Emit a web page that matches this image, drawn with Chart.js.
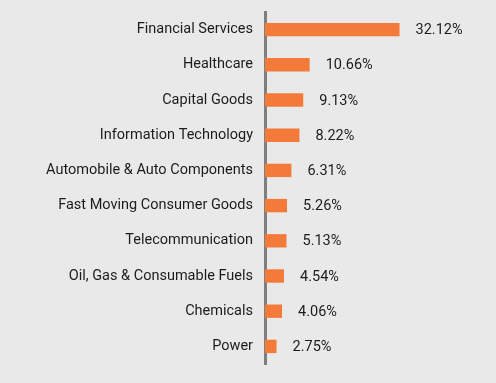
<!DOCTYPE html>
<html>
<head>
<meta charset="utf-8">
<script src="https://cdn.jsdelivr.net/npm/chart.js@4"></script>
<style>
  html, body { margin: 0; padding: 0; background: #e9e9ea; }
  #wrap { width: 496px; height: 383px; }
</style>
</head>
<body>
<div id="wrap"><canvas id="sector_chart"></canvas></div>
<script>
var sector_labels = ['Financial Services', 'Healthcare', 'Capital Goods', 'Information Technology',
                     'Automobile & Auto Components', 'Fast Moving Consumer Goods', 'Telecommunication',
                     'Oil, Gas & Consumable Fuels', 'Chemicals', 'Power'];
var sector_weights = [32.12, 10.66, 9.13, 8.22, 6.31, 5.26, 5.13, 4.54, 4.06, 2.75];

var bar_color = '#f47a3a';
var text_color = '#1c1c1c';

// draws the % value to the right of each bar
const valueLabels = {
    id: 'valueLabels',
    afterDatasetsDraw(chart) {
        const ctx = chart.ctx;
        const meta = chart.getDatasetMeta(0);
        ctx.save();
        ctx.font = '14.5px Roboto';
        ctx.fillStyle = text_color;
        ctx.textBaseline = 'middle';
        meta.data.forEach(function (bar, i) {
            ctx.fillText(sector_weights[i].toFixed(2) + '%', bar.x + 16, bar.y + 1);
        });
        ctx.restore();
    }
};

const data = {
    labels: sector_labels,
    datasets: [{
        data: sector_weights,
        backgroundColor: bar_color,
        barPercentage: 0.38,
        categoryPercentage: 1.0,
    }]
};

const config = {
    type: 'bar',
    data: data,
    options: {
        indexAxis: 'y',
        responsive: true,
        maintainAspectRatio: false,
        animation: false,
        layout: { padding: { top: 12, bottom: 19, right: 9, left: 0 } },
        scales: {
            x: {
                display: false,
                min: 0,
                max: 53,
            },
            y: {
                afterFit: function (scale) {
                    scale.width = 265;
                    scale.paddingTop = 0;
                    scale.paddingBottom = 0;
                },
                grid: { display: false, drawTicks: false },
                border: { display: true, width: 3, color: '#7f7f7f' },
                ticks: {
                    color: text_color,
                    padding: 12,
                    font: { family: 'Roboto', size: 14.5 },
                },
            }
        },
        plugins: {
            legend: { display: false },
            tooltip: { enabled: false },
        }
    },
    plugins: [valueLabels],
};

const myChart = new Chart(document.getElementById('sector_chart'), config);
</script>
</body>
</html>
